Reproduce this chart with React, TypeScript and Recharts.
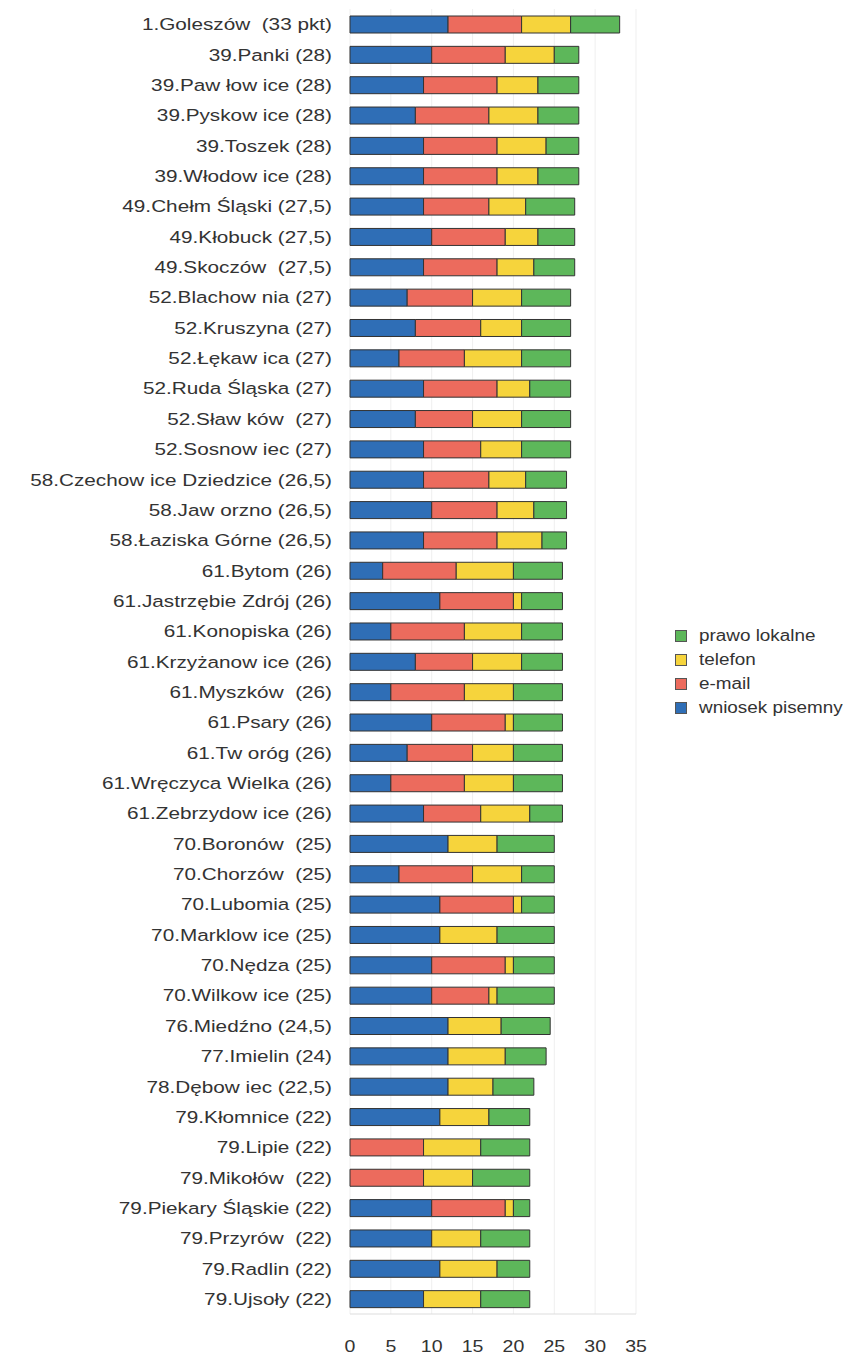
import { Bar, BarChart, CartesianGrid, Legend, XAxis, YAxis } from "recharts";

const gminy = [
  "1.Goleszów  (33 pkt)",
  "39.Panki (28)",
  "39.Paw łow ice (28)",
  "39.Pyskow ice (28)",
  "39.Toszek (28)",
  "39.Włodow ice (28)",
  "49.Chełm Śląski (27,5)",
  "49.Kłobuck (27,5)",
  "49.Skoczów  (27,5)",
  "52.Blachow nia (27)",
  "52.Kruszyna (27)",
  "52.Łękaw ica (27)",
  "52.Ruda Śląska (27)",
  "52.Sław ków  (27)",
  "52.Sosnow iec (27)",
  "58.Czechow ice Dziedzice (26,5)",
  "58.Jaw orzno (26,5)",
  "58.Łaziska Górne (26,5)",
  "61.Bytom (26)",
  "61.Jastrzębie Zdrój (26)",
  "61.Konopiska (26)",
  "61.Krzyżanow ice (26)",
  "61.Myszków  (26)",
  "61.Psary (26)",
  "61.Tw oróg (26)",
  "61.Wręczyca Wielka (26)",
  "61.Zebrzydow ice (26)",
  "70.Boronów  (25)",
  "70.Chorzów  (25)",
  "70.Lubomia (25)",
  "70.Marklow ice (25)",
  "70.Nędza (25)",
  "70.Wilkow ice (25)",
  "76.Miedźno (24,5)",
  "77.Imielin (24)",
  "78.Dębow iec (22,5)",
  "79.Kłomnice (22)",
  "79.Lipie (22)",
  "79.Mikołów  (22)",
  "79.Piekary Śląskie (22)",
  "79.Przyrów  (22)",
  "79.Radlin (22)",
  "79.Ujsoły (22)",
];

const wniosekPisemny = [
  12, 10, 9, 8, 9, 9, 9, 10, 9, 7, 8, 6, 9, 8, 9, 9, 10, 9, 4, 11, 5, 8, 5, 10,
  7, 5, 9, 12, 6, 11, 11, 10, 10, 12, 12, 12, 11, 0, 0, 10, 10, 11, 9,
];
const email = [
  9, 9, 9, 9, 9, 9, 8, 9, 9, 8, 8, 8, 9, 7, 7, 8, 8, 9, 9, 9, 9, 7, 9, 9, 8, 9,
  7, 0, 9, 9, 0, 9, 7, 0, 0, 0, 0, 9, 9, 9, 0, 0, 0,
];
const telefon = [
  6, 6, 5, 6, 6, 5, 4.5, 4, 4.5, 6, 5, 7, 4, 6, 5, 4.5, 4.5, 5.5, 7, 1, 7, 6, 6,
  1, 5, 6, 6, 6, 6, 1, 7, 1, 1, 6.5, 7, 5.5, 6, 7, 6, 1, 6, 7, 7,
];
const prawoLokalne = [
  6, 3, 5, 5, 4, 5, 6, 4.5, 5, 6, 6, 6, 5, 6, 6, 5, 4, 3, 6, 5, 5, 5, 6, 6, 6,
  6, 4, 7, 4, 4, 7, 5, 7, 6, 5, 5, 5, 6, 7, 2, 6, 4, 6,
];

const xTicks = [0, 5, 10, 15, 20, 25, 30, 35];

// stacking order, left to right
const series = [
  { key: "wniosek", name: "wniosek pisemny", color: "#2f6eb6" },
  { key: "email", name: "e-mail", color: "#ec6b5d" },
  { key: "telefon", name: "telefon", color: "#f6d43c" },
  { key: "prawo", name: "prawo lokalne", color: "#5db75a" },
];

const chartData = gminy.map((name, i) => ({
  name,
  wniosek: wniosekPisemny[i],
  email: email[i],
  telefon: telefon[i],
  prawo: prawoLokalne[i],
}));

const FONT = '"Liberation Sans", Arial, sans-serif';
const STRETCH = 1.22;

function NameTick({ x, y, payload }: any) {
  return (
    <text
      transform={`translate(${x - 18},${y}) scale(${STRETCH},1)`}
      textAnchor="end"
      dy="0.36em"
      fontSize={17}
      fontFamily={FONT}
      fill="#333"
      style={{ whiteSpace: "pre" }}
    >
      {payload.value}
    </text>
  );
}

function ValueTick({ x, y, payload }: any) {
  return (
    <text
      transform={`translate(${x},${y + 38}) scale(${STRETCH},1)`}
      textAnchor="middle"
      fontSize={16}
      fontFamily={FONT}
      fill="#333"
    >
      {payload.value}
    </text>
  );
}

function LegendBox() {
  const items = [...series].reverse();
  return (
    <div style={{ fontFamily: FONT, fontSize: 16, color: "#333" }}>
      {items.map((item) => (
        <div
          key={item.key}
          style={{ display: "flex", alignItems: "center", height: 24 }}
        >
          <span
            style={{
              width: 10,
              height: 10,
              background: item.color,
              border: "1px solid #555",
              marginRight: 12,
              flexShrink: 0,
            }}
          />
          <span
            style={{
              display: "inline-block",
              transform: "scaleX(1.18)",
              transformOrigin: "left center",
              whiteSpace: "nowrap",
            }}
          >
            {item.name}
          </span>
        </div>
      ))}
    </div>
  );
}

export default function App() {
  return (
    <BarChart
      width={852}
      height={1352}
      data={chartData}
      layout="vertical"
      margin={{ top: 1, right: 224, bottom: 0, left: 0 }}
    >
      <CartesianGrid horizontal={false} stroke="#efefef" />
      <XAxis
        type="number"
        domain={[0, 35]}
        ticks={xTicks}
        height={46}
        axisLine={{ stroke: "#dddddd" }}
        tickLine={false}
        tickSize={0}
        tickMargin={0}
        tick={<ValueTick />}
      />
      <YAxis
        type="category"
        dataKey="name"
        width={342}
        interval={0}
        axisLine={false}
        tickLine={false}
        tickSize={0}
        tickMargin={0}
        tick={<NameTick />}
      />
      <Legend
        layout="vertical"
        align="center"
        verticalAlign="middle"
        content={<LegendBox />}
        wrapperStyle={{ left: 667, top: 616, width: 185 }}
      />
      {series.map((s) => (
        <Bar
          key={s.key}
          dataKey={s.key}
          name={s.name}
          stackId="a"
          fill={s.color}
          stroke="#333"
          strokeWidth={1}
          barSize={17}
          isAnimationActive={false}
        />
      ))}
    </BarChart>
  );
}
